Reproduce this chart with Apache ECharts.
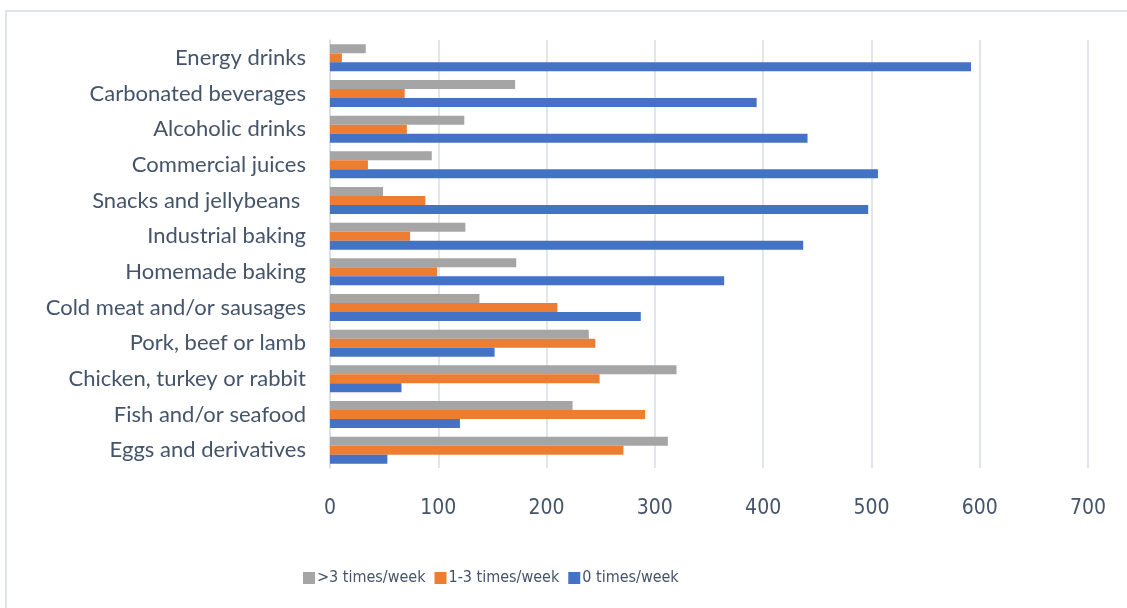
<!DOCTYPE html>
<html>
<head>
<meta charset="utf-8">
<script src="https://cdn.jsdelivr.net/npm/echarts@6/dist/echarts.min.js"></script>
<style>
  html, body { margin: 0; padding: 0; background: #fff; }
  #chart { width: 1127px; height: 608px; }
</style>
</head>
<body>
<div id="chart"></div>
<script>
// categories, top to bottom as in the picture
const categories = [
  "Energy drinks",
  "Carbonated beverages",
  "Alcoholic drinks",
  "Commercial juices",
  "Snacks and jellybeans ",
  "Industrial baking",
  "Homemade baking",
  "Cold meat and/or sausages",
  "Pork, beef or lamb",
  "Chicken, turkey or rabbit",
  "Fish and/or seafood",
  "Eggs and derivatives",
];
const moreThan3 = [33, 171, 124, 94, 49, 125, 172, 138, 239, 320, 224, 312];
const oneTo3 = [11, 69, 71, 35, 88, 74, 99, 210, 245, 249, 291, 271];
const zeroTimes = [592, 394, 441, 506, 497, 437, 364, 287, 152, 66, 120, 53];
const xTicks = [0, 100, 200, 300, 400, 500, 600, 700];

const textColor = "#44546a";
const lineColor = "#d9dee6";
const narrow = "'Liberation Sans Narrow', 'DejaVu Sans Condensed', sans-serif";

const chart = echarts.init(document.getElementById("chart"));

const option = {
  animation: false,
  textStyle: { fontFamily: "Lato" },
  graphic: [
    {
      type: "rect",
      shape: { x: 6, y: 11, width: 1300, height: 700 },
      style: { fill: "none", stroke: "#dfe3ea", lineWidth: 2 },
      silent: true,
    },
  ],
  grid: { left: 330, right: 39, top: 40, bottom: 140 },
  legend: {
    left: 298,
    top: 565,
    itemWidth: 12,
    itemHeight: 12,
    itemGap: 9,
    icon: "rect",
    data: [">3 times/week", "1-3 times/week", "0 times/week"],
    textStyle: { color: textColor, fontSize: 16, fontFamily: narrow, padding: [0, 0, 0, -3] },
  },
  xAxis: {
    type: "value",
    min: xTicks[0],
    max: xTicks[xTicks.length - 1],
    interval: 100,
    axisLine: { show: false },
    axisTick: { show: false },
    splitLine: { lineStyle: { color: lineColor, width: 1.5 } },
    axisLabel: { color: textColor, fontSize: 21, margin: 30, fontFamily: narrow },
  },
  yAxis: {
    type: "category",
    inverse: true,
    data: categories,
    axisTick: { show: false },
    axisLine: { lineStyle: { color: lineColor, width: 1.5 } },
    axisLabel: { color: textColor, fontSize: 22, margin: 24 },
  },
  series: [
    {
      name: ">3 times/week",
      type: "bar",
      data: moreThan3,
      barWidth: 9,
      barGap: "0%",
      itemStyle: { color: "#a5a5a5" },
    },
    {
      name: "1-3 times/week",
      type: "bar",
      data: oneTo3,
      barWidth: 9,
      barGap: "0%",
      itemStyle: { color: "#ed7d31" },
    },
    {
      name: "0 times/week",
      type: "bar",
      data: zeroTimes,
      barWidth: 9,
      barGap: "0%",
      itemStyle: { color: "#4472c4" },
    },
  ],
};

chart.setOption(option);
</script>
</body>
</html>
